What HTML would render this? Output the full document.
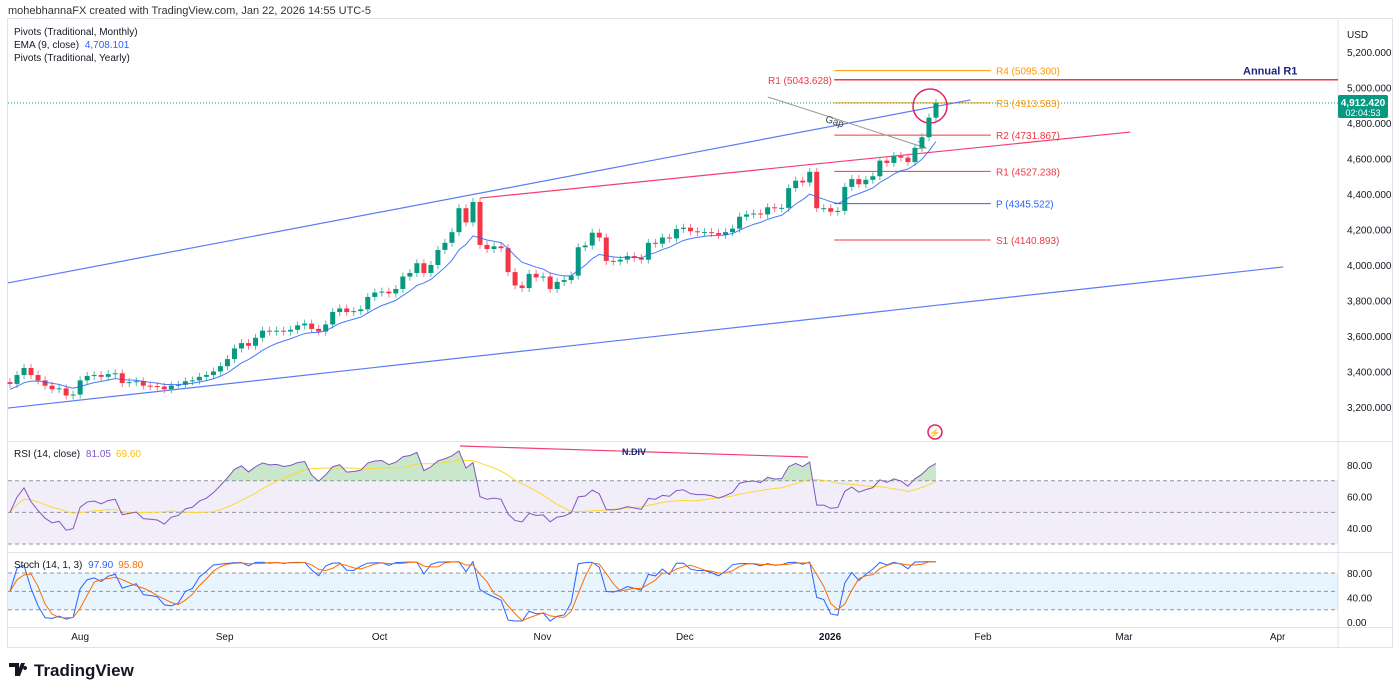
<!DOCTYPE html>
<html><head><meta charset="utf-8">
<style>
html,body{margin:0;padding:0;background:#fff;}
svg{display:block;font-family:"Liberation Sans",sans-serif;}
</style></head>
<body>
<svg id="c" width="1400" height="693" viewBox="0 0 1400 693" xmlns="http://www.w3.org/2000/svg">
<text x="8" y="14" font-size="11" fill="#333">mohebhannaFX created with TradingView.com, Jan 22, 2026 14:55 UTC-5</text>
<rect x="7.5" y="18.5" width="1385" height="629" fill="none" stroke="#e0e3eb"/>
<line x1="1338" y1="18" x2="1338" y2="647" stroke="#e0e3eb"/>
<line x1="8" y1="441.5" x2="1393" y2="441.5" stroke="#e0e3eb"/>
<line x1="8" y1="552.5" x2="1393" y2="552.5" stroke="#e0e3eb"/>
<line x1="8" y1="627.5" x2="1393" y2="627.5" stroke="#e0e3eb"/>
<text x="1347" y="38" font-size="10" fill="#131722">USD</text>
<g id="grid"></g>
<g id="drawings"></g>
<g id="candles"></g>
<g id="ind"></g>
<g id="labels"></g>
<text x="14" y="35" font-size="10" fill="#131722">Pivots (Traditional, Monthly)</text>
<text x="14" y="48" font-size="10" fill="#131722">EMA (9, close) <tspan fill="#2962ff" dx="3">4,708.101</tspan></text>
<text x="14" y="61" font-size="10" fill="#131722">Pivots (Traditional, Yearly)</text>
<text x="14" y="457" font-size="10" fill="#131722">RSI (14, close) <tspan fill="#7e57c2" dx="3">81.05</tspan><tspan fill="#f7c31a" dx="5">69.60</tspan></text>
<text x="14" y="568" font-size="10" fill="#131722">Stoch (14, 1, 3) <tspan fill="#2962ff" dx="3">97.90</tspan><tspan fill="#ff6d00" dx="5">95.80</tspan></text>
<g>
<path d="M9 663h10v13h-4v-9h-6z M21 663h4l-5 13h-4z M25 666a2 2 0 1 0 0.1 0" fill="#131722"/>
<text x="34" y="676" font-size="17" font-weight="bold" fill="#131722">TradingView</text>
</g>
</svg>
<script>
// ===== data =====
const closes=[3330,3380,3420,3380,3350,3320,3300,3305,3265,3270,3350,3375,3380,3370,3385,3390,3335,3340,3345,3320,3318,3315,3300,3320,3325,3345,3350,3370,3380,3400,3430,3470,3530,3560,3545,3590,3630,3625,3630,3625,3635,3660,3670,3640,3625,3665,3735,3755,3735,3740,3750,3820,3845,3850,3840,3865,3935,3955,4010,3955,4000,4085,4125,4185,4320,4240,4355,4113,4090,4105,4095,3960,3885,3870,3950,3930,3935,3865,3905,3915,3940,4100,4110,4182,4155,4023,4020,4030,4050,4040,4030,4125,4120,4155,4150,4203,4210,4190,4185,4185,4180,4170,4185,4205,4272,4285,4290,4285,4325,4320,4322,4433,4475,4465,4525,4320,4320,4300,4305,4440,4484,4455,4480,4500,4588,4575,4615,4605,4580,4660,4720,4830,4912];
const firstOpen=3340;
const priceTicks=[5200,5000,4800,4600,4400,4200,4000,3800,3600,3400,3200];
const rsiTicks=[80,60,40];
const stochTicks=[80,40,0];
const monthLabels=["Aug","Sep","Oct","Nov","Dec","2026","Feb","Mar","Apr"];
const monthIdx=[10,30.6,52.7,75.9,96.2,116.9,138.7,158.8,180.7];
const pivotNames=["R4","R3","R2","R1","P","S1"];
const pivotValues=[5095.300,4913.583,4731.867,4527.238,4345.522,4140.893];
const pivotColors=["#ff9800","#ff9800","#f23645","#f23645","#2962ff","#f23645"];
const annualR1=5043.628;
// trend lines: [idx1, price1, idx2, price2]
const upperChannel=[-0.3,3899,136.9,4930];
const lowerChannel=[-0.3,3194,181.5,3989];
const pinkTrend=[67,4377,159.7,4749];
const lastPrice=4912.42;

// ===== scales =====
const X=i=>10+i*7.015;
const Y=p=>52+(5200-p)*0.1775;
const RY=v=>465+(80-v)*1.58;
const SY=v=>622-v*0.6125;
const NS="http://www.w3.org/2000/svg";
function mk(tag,attrs,parent){const e=document.createElementNS(NS,tag);for(const k in attrs)e.setAttribute(k,attrs[k]);parent.appendChild(e);return e;}
const grid=document.getElementById('grid'),dr=document.getElementById('drawings'),cg=document.getElementById('candles'),ind=document.getElementById('ind'),lb=document.getElementById('labels');

priceTicks.forEach(p=>{const t=mk('text',{x:1347,y:Y(p)+4,'font-size':10,fill:'#131722'},lb);t.textContent=p.toLocaleString('en-US',{minimumFractionDigits:3});

});
rsiTicks.forEach(v=>{const t=mk('text',{x:1347,y:RY(v)+4,'font-size':10,fill:'#131722'},lb);t.textContent=v.toFixed(2);

});
stochTicks.forEach(v=>{const t=mk('text',{x:1347,y:SY(v)+4,'font-size':10,fill:'#131722'},lb);t.textContent=v.toFixed(2);

});
monthLabels.forEach((m,k)=>{const t=mk('text',{x:X(monthIdx[k]),y:640,'font-size':10,fill:'#131722','text-anchor':'middle','font-weight':m==='2026'?'bold':'normal'},lb);t.textContent=m;

});

// pivot lines
const px1=X(117.5),px2=X(139.8);
pivotNames.forEach((n,k)=>{const y=Y(pivotValues[k]);
const l=mk('line',{x1:px1,x2:px2,y1:y,y2:y,stroke:pivotColors[k],'stroke-width':1},dr);


const t=mk('text',{x:996,y:y+4,'font-size':10,fill:pivotColors[k]},lb);t.textContent=n+' ('+pivotValues[k].toFixed(3)+')';

});
{const y=Y(annualR1);const l=mk('line',{x1:px1,x2:1338,y1:y,y2:y,stroke:'#f23645','stroke-width':1.5},dr);


const t=mk('text',{x:768,y:y+4,'font-size':10,fill:'#f23645'},lb);t.textContent='R1 ('+annualR1.toFixed(3)+')';


const t2=mk('text',{x:1243,y:Y(5095)+4,'font-size':11,'font-weight':'bold',fill:'#1a237e'},lb);t2.textContent='Annual R1';

}
{const y=Y(lastPrice);const l=mk('line',{x1:8,x2:1338,y1:y,y2:y,stroke:'#089981','stroke-dasharray':'1 2'},dr);


const r=mk('rect',{x:1338,y:y-8,width:50,height:23,fill:'#089981',rx:2},lb);


const t=mk('text',{x:1363,y:y+3,'font-size':10,fill:'#fff','text-anchor':'middle','font-weight':'bold'},lb);t.textContent='4,912.420';


const t2=mk('text',{x:1363,y:y+13,'font-size':9,fill:'#fff','text-anchor':'middle'},lb);t2.textContent='02:04:53';

}
[[upperChannel,'#5b7cf5','upper-channel-line'],[lowerChannel,'#5b7cf5','lower-channel-line'],[pinkTrend,'#f23f6f','pink-trend-line']].forEach(([a,c,n])=>{
const l=mk('line',{x1:X(a[0]),y1:Y(a[1]),x2:X(a[2]),y2:Y(a[3]),stroke:c,'stroke-width':1.2},dr);

});

const opens=closes.map((c,i)=>i===0?firstOpen:closes[i-1]);
closes.forEach((c,i)=>{const o=opens[i];const up=c>=o;const col=up?'#089981':'#f23645';
const x=X(i);const yt=Y(Math.max(o,c)),yb=Y(Math.min(o,c));
const g=mk('g',{},cg);


mk('line',{x1:x,x2:x,y1:yt-4,y2:yb+4,stroke:up?'#4cbfa6':'#f7749a','stroke-width':1},g);
mk('rect',{x:x-2.5,y:yt,width:5,height:Math.max(1,yb-yt),fill:col},g);});

const ema=[];closes.forEach((c,i)=>{ema.push(i===0?c-30:ema[i-1]+(c-ema[i-1])*2/10);});
{const p=mk('polyline',{points:ema.map((v,i)=>X(i)+','+Y(v)).join(' '),fill:'none',stroke:'#2962ff','stroke-width':1,'stroke-opacity':0.85},ind);

}

const rsi=[];let ag=8,al=8;
closes.forEach((c,i)=>{if(i===0){rsi.push(50);return;}const d=c-closes[i-1];ag=(ag*13+Math.max(d,0))/14;al=(al*13+Math.max(-d,0))/14;rsi.push(100-100/(1+ag/(al||1e-9)));});
const rsiSig=rsi.map((v,i)=>{const s=rsi.slice(Math.max(0,i-13),i+1);return s.reduce((a,b)=>a+b,0)/s.length;});
{const r=mk('rect',{x:8,y:RY(70),width:1330,height:RY(30)-RY(70),fill:'#7e57c2','fill-opacity':0.1},grid);


[70,50,30].forEach(v=>{const l=mk('line',{x1:8,x2:1338,y1:RY(v),y2:RY(v),stroke:'#787b86','stroke-dasharray':'4 3','stroke-opacity':0.8},grid);

});
const defs=mk('defs',{},ind);const cp=mk('clipPath',{id:'ob'},defs);mk('rect',{x:0,y:440,width:1400,height:RY(70)-440},cp);
const area=mk('polygon',{points:rsi.map((v,i)=>X(i)+','+RY(v)).join(' ')+' '+X(closes.length-1)+','+RY(70)+' '+X(0)+','+RY(70),fill:'#4caf50','fill-opacity':0.3,'clip-path':'url(#ob)'},ind);


const s=mk('polyline',{points:rsiSig.map((v,i)=>X(i)+','+RY(v)).join(' '),fill:'none',stroke:'#fdd835','stroke-width':1},ind);


const p=mk('polyline',{points:rsi.map((v,i)=>X(i)+','+RY(v)).join(' '),fill:'none',stroke:'#7e57c2','stroke-width':1},ind);

}
{const l=mk('line',{x1:460,y1:446,x2:808,y2:457,stroke:'#f23f6f','stroke-width':1.2},dr);


const t=mk('text',{x:634,y:455,'font-size':9,fill:'#1a237e','text-anchor':'middle','font-weight':'bold'},lb);t.textContent='N.DIV';

}

const k=closes.map((c,i)=>{const w=closes.slice(Math.max(0,i-13),i+1);const hi=Math.max(...w)+8,lo=Math.min(...w)-8;return (c-lo)/(hi-lo)*100;});
const d=k.map((v,i)=>{const s=k.slice(Math.max(0,i-2),i+1);return s.reduce((a,b)=>a+b,0)/s.length;});
{const r=mk('rect',{x:8,y:SY(80),width:1330,height:SY(20)-SY(80),fill:'#2196f3','fill-opacity':0.1},grid);


[80,50,20].forEach(v=>{const l=mk('line',{x1:8,x2:1338,y1:SY(v),y2:SY(v),stroke:'#787b86','stroke-dasharray':'4 3','stroke-opacity':0.8},grid);

});
const pk=mk('polyline',{points:k.map((v,i)=>X(i)+','+SY(v)).join(' '),fill:'none',stroke:'#2962ff','stroke-width':1},ind);


const pd=mk('polyline',{points:d.map((v,i)=>X(i)+','+SY(v)).join(' '),fill:'none',stroke:'#ff6d00','stroke-width':1},ind);

}

{const a=mk('line',{x1:768,y1:97,x2:926,y2:148,stroke:'#999','stroke-width':1},dr);


const h=mk('polyline',{points:'918,141 926,148 916,149',fill:'none',stroke:'#999'},dr);


const t=mk('text',{x:825,y:124,'font-size':10,fill:'#434651',transform:'rotate(18 832 122)'},lb);t.textContent='Gap';


const c=mk('ellipse',{cx:930,cy:106,rx:17,ry:17,fill:'none',stroke:'#e91e63','stroke-width':1.5},dr);


const lc=mk('circle',{cx:935,cy:432,r:7,fill:'none',stroke:'#e91e63','stroke-width':1.5},lb);


const lt=mk('text',{x:935,y:436,'font-size':9,fill:'#e91e63','text-anchor':'middle'},lb);lt.textContent='⚡';

}
</script>
</body></html>
